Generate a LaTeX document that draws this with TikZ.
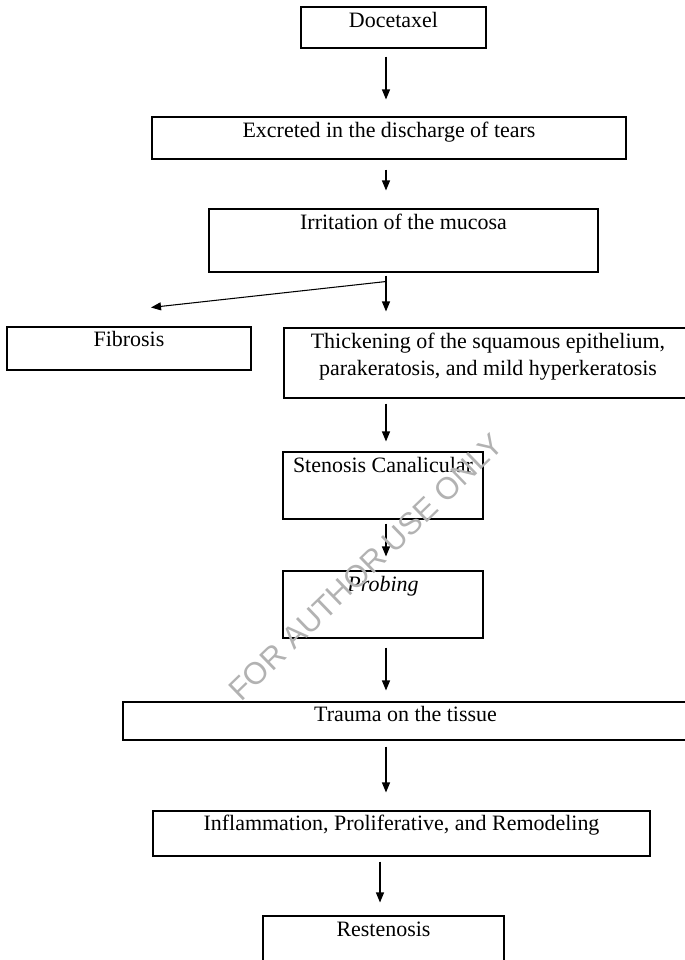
\documentclass[tikz,border=0pt]{standalone}
\usepackage{fontspec}
\setmainfont{Liberation Serif}
\newfontfamily\marksans{Liberation Sans}
\usetikzlibrary{calc,arrows.meta}
\newlength\pxu
\setlength\pxu{0.02cm}

\begin{document}
\begin{tikzpicture}[x=0.02cm,y=-0.02cm]
  \tikzset{flowbox/.style={draw=black,line width=0.6pt,rectangle,inner sep=0pt}}
  \tikzset{flowtext/.style={font=\fontsize{12.5}{15.6}\selectfont,inner sep=0pt,anchor=base,text=black}}
  \tikzset{flowarrow/.style={draw=black,line width=0.6pt,-{Triangle[length=2mm,width=1.6mm]}}}
  \tikzset{watermark/.style={font=\marksans\fontsize{17.6}{20}\selectfont,text=black!30,inner sep=0pt,rotate=44}}

  \useasboundingbox (0,0) rectangle (685,960);
  \coordinate (spine) at (386,0);
  \coordinate (restspine) at (380,0);

  \node[flowbox,minimum width=185\pxu,minimum height=41\pxu] (doc) at (393.5,27.5) {};
  \node[flowbox,minimum width=474\pxu,minimum height=42\pxu] (excr) at (389,138) {};
  \node[flowbox,minimum width=389\pxu,minimum height=63\pxu] (irri) at (403.5,240.5) {};
  \node[flowbox,minimum width=244\pxu,minimum height=43\pxu] (fib) at (129,348.5) {};
  \node[flowbox,minimum width=404\pxu,minimum height=70\pxu] (thick) at (486,363) {};
  \node[flowbox,minimum width=200\pxu,minimum height=67\pxu] (sten) at (383,485.5) {};
  \node[flowbox,minimum width=200\pxu,minimum height=67\pxu] (prob) at (383,604.5) {};
  \node[flowbox,minimum width=565\pxu,minimum height=38\pxu] (trau) at (405.5,721) {};
  \node[flowbox,minimum width=497\pxu,minimum height=45\pxu] (infl) at (401.5,833.5) {};
  \node[flowbox,minimum width=241\pxu,minimum height=50\pxu] (rest) at (383.5,941) {};

  \node[flowtext] (doctext) at ($(doc.north)+(0,21)$) {Docetaxel};
  \node[flowtext] (excrtext) at ($(excr.north)+(0,21)$) {Excreted in the discharge of tears};
  \node[flowtext] (irritext) at ($(irri.north)+(0,21)$) {Irritation of the mucosa};
  \node[flowtext] (fibtext) at ($(fib.north)+(0,20)$) {Fibrosis};
  \node[flowtext,align=center] (thicktext) at ($(thick.north)+(2,48)$) {Thickening of the squamous epithelium,\\parakeratosis, and mild hyperkeratosis};
  \node[flowtext] (stentext) at ($(sten.north)+(0,21)$) {Stenosis Canalicular};
  \node[flowtext] (probtext) at ($(prob.north)+(0,21)$) {\itshape Probing};
  \node[flowtext] (trautext) at ($(trau.north)+(0,20.5)$) {Trauma on the tissue};
  \node[flowtext] (infltext) at ($(infl.north)+(0,20)$) {Inflammation, Proliferative, and Remodeling};
  \node[flowtext] (resttext) at ($(rest.north)+(0,21)$) {Restenosis};

  \coordinate (split) at ($(irri.south -| spine)+(0,9)$);
  \coordinate (fibin) at ($(fib.north)+(22,-19)$);

  \draw[flowarrow,shorten <=1.6mm,shorten >=3.4mm] (doc.south -| spine) -- (excr.north -| spine);
  \draw[flowarrow,shorten <=2mm,shorten >=3.6mm] (excr.south -| spine) -- (irri.north -| spine);
  \draw[flowarrow,shorten <=0.6mm,shorten >=3.2mm] (irri.south -| spine) -- (thick.north -| spine);
  \draw[flowarrow] (split) -- (fibin);
  \draw[flowarrow,shorten <=1mm,shorten >=2mm] (thick.south -| spine) -- (sten.north -| spine);
  \draw[flowarrow,shorten <=0.8mm,shorten >=2.8mm] (sten.south -| spine) -- (prob.north -| spine);
  \draw[flowarrow,shorten <=1.8mm,shorten >=2.2mm] (prob.south -| spine) -- (trau.north -| spine);
  \draw[flowarrow,shorten <=1.2mm,shorten >=3.6mm] (trau.south -| spine) -- (infl.north -| spine);
  \draw[flowarrow,shorten <=1mm,shorten >=2.6mm] (infl.south -| restspine) -- (rest.north -| restspine);

  \node[watermark] (mark) at (366,567) {FOR AUTHOR USE ONLY};
\end{tikzpicture}
\end{document}
